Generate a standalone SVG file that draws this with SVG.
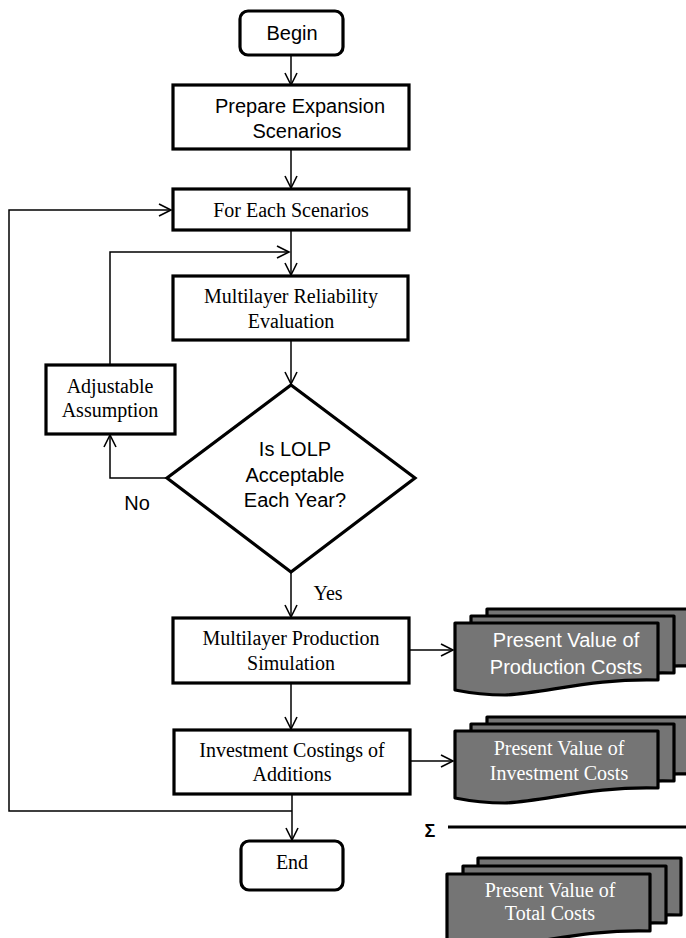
<svg xmlns="http://www.w3.org/2000/svg" width="686" height="938" viewBox="0 0 686 938">
<style>
.box{fill:#fff;stroke:#000;stroke-width:3.2}
.conn{fill:none;stroke:#000;stroke-width:1.5}
.sans{font-family:"Liberation Sans",Arial,sans-serif;font-size:20px;fill:#000;text-anchor:middle}
.serif{font-family:"Liberation Serif","Times New Roman",serif;font-size:20px;fill:#000;text-anchor:middle}
.doc{fill:#757575;stroke:#000;stroke-width:3.2;stroke-linejoin:round}
.dtxt{fill:#fff}
</style>
<defs>
<marker id="arr" markerUnits="userSpaceOnUse" markerWidth="16" markerHeight="16" refX="13" refY="7" orient="auto" overflow="visible">
<path d="M1,1 L13,7 L1,13" fill="none" stroke="#000" stroke-width="1.6"/>
</marker>
<path id="docshape" d="M0,0 H203 V57 C140,55 90,70 50,72 C30,72 15,70 0,67 Z"/>
</defs>

<g id="connectors">
<path class="conn" d="M291,55 V85" marker-end="url(#arr)"/>
<path class="conn" d="M291,149 V188" marker-end="url(#arr)"/>
<path class="conn" d="M291,230 V275" marker-end="url(#arr)"/>
<path class="conn" d="M291,340 V384" marker-end="url(#arr)"/>
<path class="conn" d="M291,572 V617" marker-end="url(#arr)"/>
<path class="conn" d="M291,683 V729" marker-end="url(#arr)"/>
<path class="conn" d="M292,794 V840" marker-end="url(#arr)"/>
<path class="conn" d="M167,478 H110 V435" marker-end="url(#arr)"/>
<path class="conn" d="M110,365 V252 H289" marker-end="url(#arr)"/>
<path class="conn" d="M292,811 H9 V210 H171" marker-end="url(#arr)"/>
<path class="conn" d="M409,650 H453" marker-end="url(#arr)"/>
<path class="conn" d="M410,761 H453" marker-end="url(#arr)"/>
</g>

<g id="begin">
<rect class="box" x="240" y="11" width="103" height="44" rx="8"/>
<text class="sans" x="292" y="40" font-size="19">Begin</text>
</g>

<g id="prepare">
<rect class="box" x="173" y="85" width="236" height="64"/>
<text class="sans" x="300" y="113">Prepare Expansion</text>
<text class="sans" x="297" y="138">Scenarios</text>
</g>

<g id="foreach">
<rect class="box" x="173" y="189" width="236" height="41"/>
<text class="serif" x="291" y="217">For Each Scenarios</text>
</g>

<g id="reliability">
<rect class="box" x="173" y="276" width="235" height="64"/>
<text class="serif" x="291" y="303">Multilayer Reliability</text>
<text class="serif" x="291" y="328">Evaluation</text>
</g>

<g id="adjustable">
<rect class="box" x="46" y="365" width="129" height="69"/>
<text class="serif" x="110" y="393">Adjustable</text>
<text class="serif" x="110" y="417">Assumption</text>
</g>

<g id="decision">
<polygon class="box" points="291,385 415,478 291,572 167,478"/>
<text class="sans" x="295" y="456">Is LOLP</text>
<text class="sans" x="295" y="482">Acceptable</text>
<text class="sans" x="295" y="507">Each Year?</text>
</g>

<g id="labels">
<text class="sans" x="137" y="510">No</text>
<text class="serif" x="328" y="600">Yes</text>
</g>

<g id="production">
<rect class="box" x="173" y="618" width="236" height="65"/>
<text class="serif" x="291" y="645">Multilayer Production</text>
<text class="serif" x="291" y="670">Simulation</text>
</g>

<g id="investment">
<rect class="box" x="174" y="730" width="236" height="64"/>
<text class="serif" x="292" y="757">Investment Costings of</text>
<text class="serif" x="292" y="781">Additions</text>
</g>

<g id="end">
<rect class="box" x="241" y="841" width="102" height="49" rx="8"/>
<text class="serif" x="292" y="869">End</text>
</g>

<g id="pv-production">
<use href="#docshape" class="doc" x="487" y="609"/>
<use href="#docshape" class="doc" x="471" y="616"/>
<use href="#docshape" class="doc" x="455" y="623"/>
<text class="sans dtxt" x="566" y="647" font-size="19">Present Value of</text>
<text class="sans dtxt" x="566" y="674" font-size="19">Production Costs</text>
</g>

<g id="pv-investment">
<use href="#docshape" class="doc" x="487" y="717"/>
<use href="#docshape" class="doc" x="471" y="724"/>
<use href="#docshape" class="doc" x="455" y="731"/>
<text class="serif dtxt" x="559" y="755">Present Value of</text>
<text class="serif dtxt" x="559" y="780">Investment Costs</text>
</g>

<g id="sum">
<text x="430" y="837" font-family="Liberation Sans,Arial,sans-serif" font-size="18" font-weight="bold" text-anchor="middle">Σ</text>
<line x1="448" y1="827" x2="690" y2="827" stroke="#000" stroke-width="3"/>
</g>

<g id="pv-total">
<use href="#docshape" class="doc" x="478" y="858"/>
<use href="#docshape" class="doc" x="463" y="866"/>
<use href="#docshape" class="doc" x="447" y="874"/>
<text class="serif dtxt" x="550" y="897">Present Value of</text>
<text class="serif dtxt" x="550" y="920">Total Costs</text>
</g>
</svg>
